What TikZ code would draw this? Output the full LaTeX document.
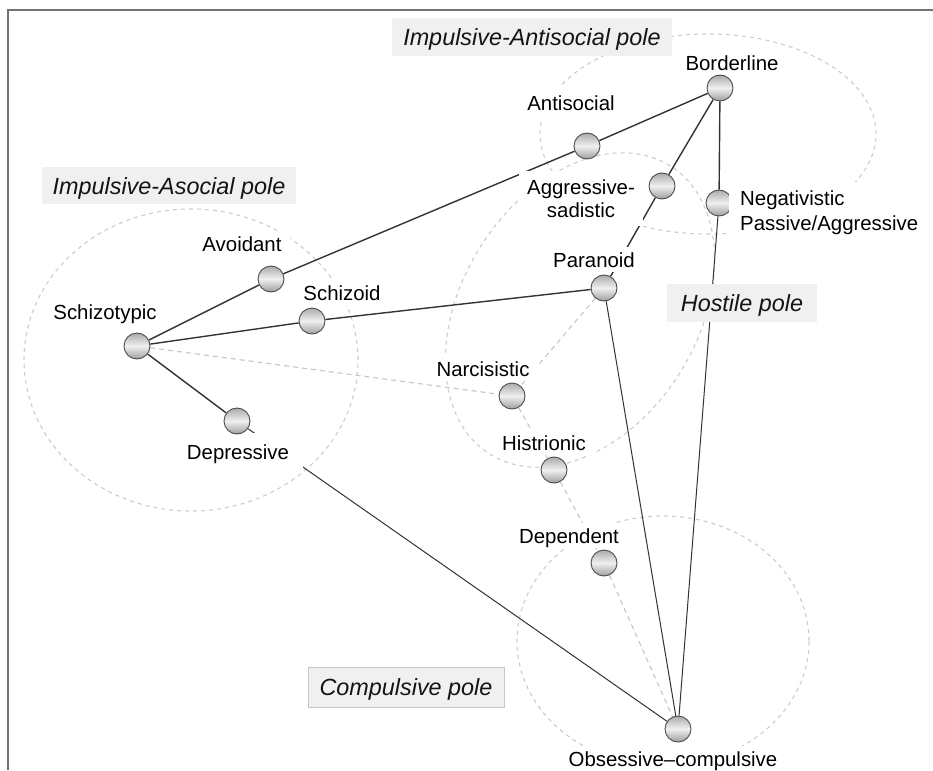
\documentclass[tikz,border=0pt]{standalone}
\usepackage{fontspec}
\setmainfont{Liberation Sans}
\usetikzlibrary{backgrounds}
\begin{document}
\begin{tikzpicture}[x=1pt,y=-1pt,
  lblbase/.style={fill=white, text=black, font=\fontsize{20.4}{23}\selectfont},
  lbl/.style={lblbase, text height=18.5pt, text depth=3pt, inner xsep=8pt, inner ysep=2pt, anchor=base},
  pole/.style={fill=gray!12, inner sep=0pt, minimum height=38pt, text height=17pt, text depth=0pt,
    text=black!92, font=\fontsize{23.4}{26}\selectfont\itshape},
  ball/.style={circle, draw=black!70, line width=0.9pt, minimum size=26pt, inner sep=0pt,
    top color=gray!66, bottom color=gray!76, middle color=gray!12},
  link/.style={draw=black!80, line width=1.4pt},
  thinlink/.style={draw=black!80, line width=1.0pt},
  weak/.style={draw=gray!45, line width=1.1pt, dash pattern=on 5pt off 4pt},
  zone/.style={draw=gray!40, line width=1.1pt, dash pattern=on 4pt off 4pt}]

\useasboundingbox (0,0) rectangle (933,770);
\begin{scope}[on background layer]
  \fill[white] (0,0) rectangle (933,770);
  \draw[black!55, line width=2pt] (7.5,770) -- (7.5,10) -- (933,10);
\end{scope}

% labels (drawn before the balls)
\node[lbl] (lbor) at (732,70.3) {Borderline};
\node[lbl, inner xsep=10pt, inner ysep=6pt] (lant) at (571,110.3) {Antisocial};
\node[lblbase, align=center, inner xsep=8pt, inner ysep=9pt] (lagg) at (581,198.5) {Aggressive-\\sadistic};
\node[lbl] (lavo) at (242,251.3) {Avoidant};
\node[lbl] (lszd) at (342,300.3) {Schizoid};
\node[lbl] (lsct) at (105,319.3) {Schizotypic};
\node[lbl, inner xsep=14pt, inner ysep=8pt] (ldpr) at (238,459.3) {Depressive};
\node[lbl] (lpar) at (594,267.3) {Paranoid};
\node[lbl] (lnar) at (483,376.3) {Narcisistic};
\node[lbl] (lhis) at (544,450.3) {Histrionic};
\node[lbl] (ldep) at (569,543.3) {Dependent};
\node[lbl] (lobs) at (673,766.3) {Obsessive–compulsive};

% personality nodes
\node[ball] (bor) at (720,88) {};
\node[ball] (ant) at (587,146) {};
\node[ball] (agg) at (662,186) {};
\node[ball] (neg) at (719,203) {};
\node[ball] (avo) at (271,279) {};
\node[ball] (szd) at (312,321) {};
\node[ball] (par) at (604,288) {};
\node[ball] (sct) at (137,346) {};
\node[ball] (dpr) at (237,421) {};
\node[ball] (nar) at (512,396) {};
\node[ball] (his) at (554,470) {};
\node[ball] (dep) at (604,563) {};
\node[ball] (obs) at (678,729) {};

% zones and connectors
\begin{scope}[on background layer]
  \draw[zone] (708,134) ellipse [x radius=168pt, y radius=100pt];
  \draw[zone] (191,360) ellipse [x radius=167pt, y radius=151pt];
  \draw[zone, rotate around={58:(580,310)}] (580,310) ellipse [x radius=170pt, y radius=118pt];
  \draw[zone] (663,641) ellipse [x radius=146pt, y radius=125pt];

  \draw[weak] (sct) -- (nar);
  \draw[weak] (par) -- (nar) -- (his) -- (dep) -- (obs);

  \draw[link] (sct) -- (avo) -- (ant) -- (bor);
  \draw[link] (sct) -- (szd) -- (par);
  \draw[link] (bor) -- (agg) -- (par);
  \draw[link] (bor) -- (neg);
  \draw[link] (sct) -- (dpr);
  \draw[thinlink] (neg) -- (obs);
  \draw[thinlink] (par) -- (obs);
  \draw[thinlink] (dpr) -- (obs);
\end{scope}

% pole boxes
\node[pole, minimum width=280pt] (pia) at (532,37) {Impulsive-Antisocial pole};
\node[pole, minimum width=254pt, minimum height=37pt] (pas) at (169,185.5) {Impulsive-Asocial pole};
\node[pole, minimum width=150pt] (pho) at (742,303) {Hostile pole};
\node[pole, minimum width=196pt, minimum height=40pt, draw=gray!45, line width=0.8pt] (pco) at (406,687) {Compulsive pole};

% label that overlaps its node
\node[lblbase, align=left, anchor=west, inner xsep=11pt, inner ysep=9pt,
  font=\fontsize{20.4}{25}\selectfont] (lneg) at (729,212.6) {Negativistic\\Passive/Aggressive};
\end{tikzpicture}
\end{document}
